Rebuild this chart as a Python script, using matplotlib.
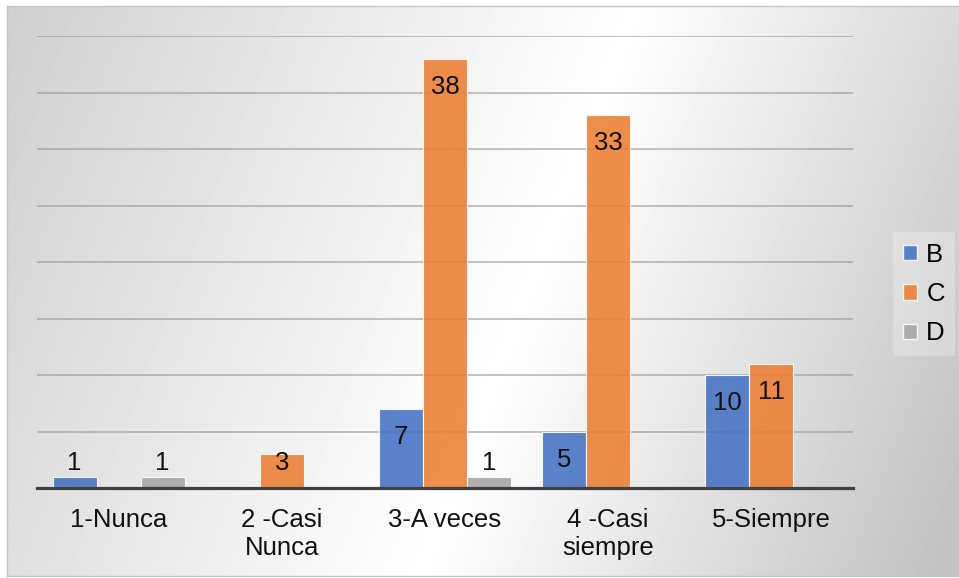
import matplotlib.pyplot as plt
import numpy as np
from matplotlib.patches import Patch

plt.rcParams['font.family'] = ['Liberation Sans', 'DejaVu Sans']

# data
categorias = ["1-Nunca", "2 -Casi\nNunca", "3-A veces", "4 -Casi\nsiempre", "5-Siempre"]
serie_b = [1, 0, 7, 5, 10]
serie_c = [0, 3, 38, 33, 11]
serie_d = [1, 0, 1, 0, 0]
series = {"B": serie_b, "C": serie_c, "D": serie_d}
colores = {"B": "#4472C4", "C": "#ED7D31", "D": "#A5A5A5"}

W, H = 959, 578
fig = plt.figure(figsize=(W / 100, H / 100), dpi=100)
fig.patch.set_facecolor("white")

# background gradient (diagonal, white band in the middle)
bx0, by0, bx1, by1 = 7, 6, 959, 576
bg = fig.add_axes([bx0 / W, 1 - by1 / H, (bx1 - bx0) / W, (by1 - by0) / H])
xx, yy = np.meshgrid(np.arange(bx0, bx1), np.arange(by0, by1))
t = (xx * 578 + yy * 220) / 618.0 - 598
val = np.where(t < 0, 1 - 0.00032 * np.abs(t), 1 - 0.00050 * t)
val = np.clip(val, 0.76, 1.0)
bg.imshow(val, cmap="gray", vmin=0, vmax=1, aspect="auto", interpolation="bilinear")
bg.set_xticks([])
bg.set_yticks([])
for s in bg.spines.values():
    s.set_color("#c4c4c4")
    s.set_linewidth(1.0)
bg.spines["right"].set_visible(False)
bg.set_zorder(0)

# main axes
ax = fig.add_axes([37 / W, 1 - 488 / H, (853 - 37) / W, (488 - 36) / H])
ax.set_zorder(1)
ax.patch.set_alpha(0)

x = np.arange(len(categorias))
ancho = 0.27
offsets = {"B": -ancho, "C": 0.0, "D": ancho}
for nombre, vals in series.items():
    ax.bar(x + offsets[nombre], vals, ancho, color=colores[nombre], alpha=0.88,
           edgecolor="#ffffff", linewidth=0.8, zorder=3, label=nombre)
    for xi, v in zip(x + offsets[nombre], vals):
        if v > 0:
            ax.text(xi, max(v - 2.5, 2.2), str(v), ha="center", va="center",
                    fontsize=18.5, color="#111111", zorder=5)

ax.set_ylim(0, 40)
ax.set_xlim(-0.5, len(categorias) - 0.5)
ax.set_yticks(np.arange(5, 41, 5))
ax.yaxis.grid(True, color="#9a9a9a", linewidth=1.2, alpha=0.7, zorder=1)
ax.set_axisbelow(True)
ax.tick_params(axis="y", left=False, labelleft=False)
ax.tick_params(axis="x", bottom=False, pad=11)
ax.set_xticks(x)
ax.set_xticklabels(categorias, fontsize=18.5, color="#111111")
for s in ["left", "right", "top"]:
    ax.spines[s].set_visible(False)
ax.spines["bottom"].set_color("#404040")
ax.spines["bottom"].set_linewidth(2.3)
ax.spines["bottom"].set_zorder(4)

handles = [Patch(facecolor=colores[n], edgecolor="#ffffff", alpha=0.88, label=n) for n in series]
leg = ax.legend(handles=handles, loc="center left", bbox_to_anchor=(880 / W, 1 - 294 / H),
                bbox_transform=fig.transFigure, frameon=True, fontsize=18.5,
                handlelength=0.55, handleheight=0.55, handletextpad=0.35,
                labelspacing=0.6, borderpad=0.4, fancybox=False)
leg.get_frame().set_facecolor("#ffffff")
leg.get_frame().set_alpha(0.25)
leg.get_frame().set_edgecolor("none")

fig.savefig("out.png", dpi=100)
